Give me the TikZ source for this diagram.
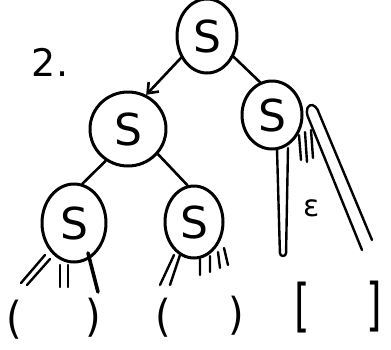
\documentclass[tikz,border=0pt]{standalone}
\usepackage{fontspec}
\setsansfont{DejaVu Sans}
\usetikzlibrary{shapes.geometric,arrows.meta}
\begin{document}
\begin{tikzpicture}[x=1pt,y=-1pt,
  every path/.style={line width=2.6pt,line cap=round,line join=round},
  snode/.style={ellipse,draw,line width=3pt,inner sep=0pt,font=\sffamily\fontsize{44}{44}\selectfont},
  brk/.style={inner sep=0pt,yscale=1.1,font=\sffamily\fontsize{40}{40}\selectfont},
  stroke/.style={line width=2.4pt}]
\useasboundingbox (0,0) rectangle (391,349);
\node[snode,minimum width=60pt,minimum height=74pt] (r) at (207,36) {S};
\node[snode,minimum width=76pt,minimum height=74pt] (a) at (128,129) {S};
\node[snode,minimum width=60pt,minimum height=68pt] (b) at (272,115) {S};
\node[snode,minimum width=64pt,minimum height=78pt] (c) at (74,223) {S};
\node[snode,minimum width=58pt,minimum height=72pt] (d) at (194,222) {S};
\node[font=\sffamily\fontsize{38}{38}\selectfont] (two) at (50,62) {2.};
\node[font=\sffamily\fontsize{30}{30}\selectfont] (eps) at (312,208) {ε};
% connectors
\draw[-{Straight Barb[length=9pt,width=14pt]}] (r.220) -- (a.62);
\draw (r.-38) -- (b.110);
\draw (a.235) -- (c.78);
\draw (a.-40) -- (d.100);
% strokes below b
\draw[stroke,rounded corners=3pt] (277,149) -- (280,256) -- (286,256) -- (288,148);
\draw[stroke] (299,135) -- (301,160) (305,132) -- (307,162) (311,130) -- (313,158);
\draw[stroke,rounded corners=4pt] (362,250) -- (306,112) -- (309,104) -- (316,106) -- (372,240);
% strokes below c
\draw[stroke] (45,255) -- (21,283) (50,259) -- (27,285);
\draw[stroke] (60,265) -- (60,287) (68,265) -- (68,287);
\draw[line width=3.6pt] (88,253) -- (98,292);
% strokes below d
\draw[stroke] (174,255) -- (160,285) (180,255) -- (170,285);
\draw[stroke] (200,258) -- (200,275) (210,256) -- (210,272) (218,252) -- (220,268) (224,248) -- (228,265);
% brackets
\node[brk] (p1) at (14,320) {(};
\node[brk] (p2) at (93,318) {)};
\node[brk] (p3) at (163,318) {(};
\node[brk] (p4) at (236,316) {)};
\node[brk,yscale=1.3] (p5) at (302,308) {[};
\node[brk,yscale=1.3] (p6) at (374,307) {]};
\end{tikzpicture}
\end{document}
